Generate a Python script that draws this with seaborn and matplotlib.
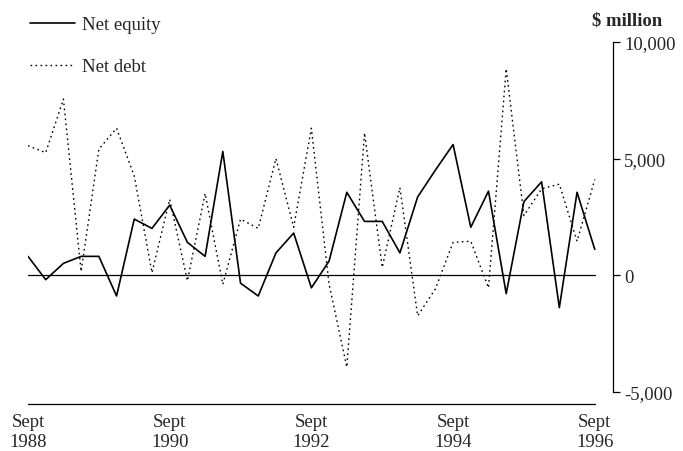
import matplotlib
matplotlib.use("Agg")
import matplotlib.pyplot as plt
import seaborn as sns
import pandas as pd
import numpy as np

# Quarterly data, Sept 1988 .. Sept 1996 ($ million)
quarters = list(range(33))
net_equity = [800, -200, 500, 800, 800, -900, 2400, 2000, 3000, 1400, 800, 5300,
              -350, -900, 950, 1800, -550, 600, 3550, 2300, 2300, 950, 3350, 4500,
              5600, 2050, 3600, -800, 3150, 4000, -1400, 3550, 1100]
net_debt = [5550, 5250, 7550, 150, 5400, 6300, 4250, 100, 3250, -250, 3500, -400,
            2400, 2000, 5000, 2050, 6300, -400, -3950, 6100, 330, 3750, -1750, -600,
            1400, 1450, -550, 8850, 2550, 3700, 3900, 1450, 4100]
xtick_pos = [0, 8, 16, 24, 32]
xtick_labels = ["Sept\n1988", "Sept\n1990", "Sept\n1992", "Sept\n1994", "Sept\n1996"]
ytick_vals = [-5000, 0, 5000, 10000]
ytick_labels = ["-5,000", "0", "5,000", "10,000"]

sns.set_style("white")
plt.rcParams["font.family"] = ["Liberation Serif", "DejaVu Serif"]

FS = 13.5

df = pd.DataFrame({"q": quarters, "Net equity": net_equity, "Net debt": net_debt})

fig = plt.figure(figsize=(6.83, 4.52), dpi=100)
ax = fig.add_axes([28/683, 1 - 405/452, (613 - 28)/683, (405 - 43)/452])

sns.lineplot(data=df, x="q", y="Net equity", ax=ax, color="black", linewidth=1.2,
             label="Net equity")
sns.lineplot(data=df, x="q", y="Net debt", ax=ax, color="black", linewidth=1.0,
             linestyle=(0, (1.2, 2.4)), label="Net debt")
ax.axhline(0, xmin=0, xmax=32/33.03, color="black", linewidth=0.9)

ax.set_xlim(0, 33.03)
ax.set_ylim(-5536, 10000)

for s in ["top", "left"]:
    ax.spines[s].set_visible(False)
ax.spines["bottom"].set_bounds(0, 32)
ax.spines["right"].set_bounds(-5000, 10000)
for s in ["bottom", "right"]:
    ax.spines[s].set_color("black")
    ax.spines[s].set_linewidth(0.9)

ax.set_xticks(xtick_pos)
ax.set_xticklabels(xtick_labels, fontsize=FS, linespacing=1.25)
ax.set_yticks(ytick_vals)
ax.set_yticklabels(ytick_labels, fontsize=FS)
ax.yaxis.tick_right()
ax.tick_params(axis="x", direction="out", length=5, width=0.9, pad=1.5, color="black")
ax.tick_params(axis="y", direction="out", length=5, width=0.9, pad=3, color="black",
               left=False, right=True, labelleft=False, labelright=True)
ax.set_xlabel("")
ax.set_ylabel("")

fig.text(627/683, 1 - 21/452, "$ million", ha="center", va="center",
         fontsize=FS, fontweight="bold")

leg = ax.legend(loc="upper left", bbox_to_anchor=(30/683, 1 - 17/452),
                bbox_transform=fig.transFigure, frameon=False, fontsize=FS,
                handlelength=2.4, handletextpad=0.4, labelspacing=1.33,
                borderpad=0, borderaxespad=0)

fig.savefig("out.png", dpi=100)
